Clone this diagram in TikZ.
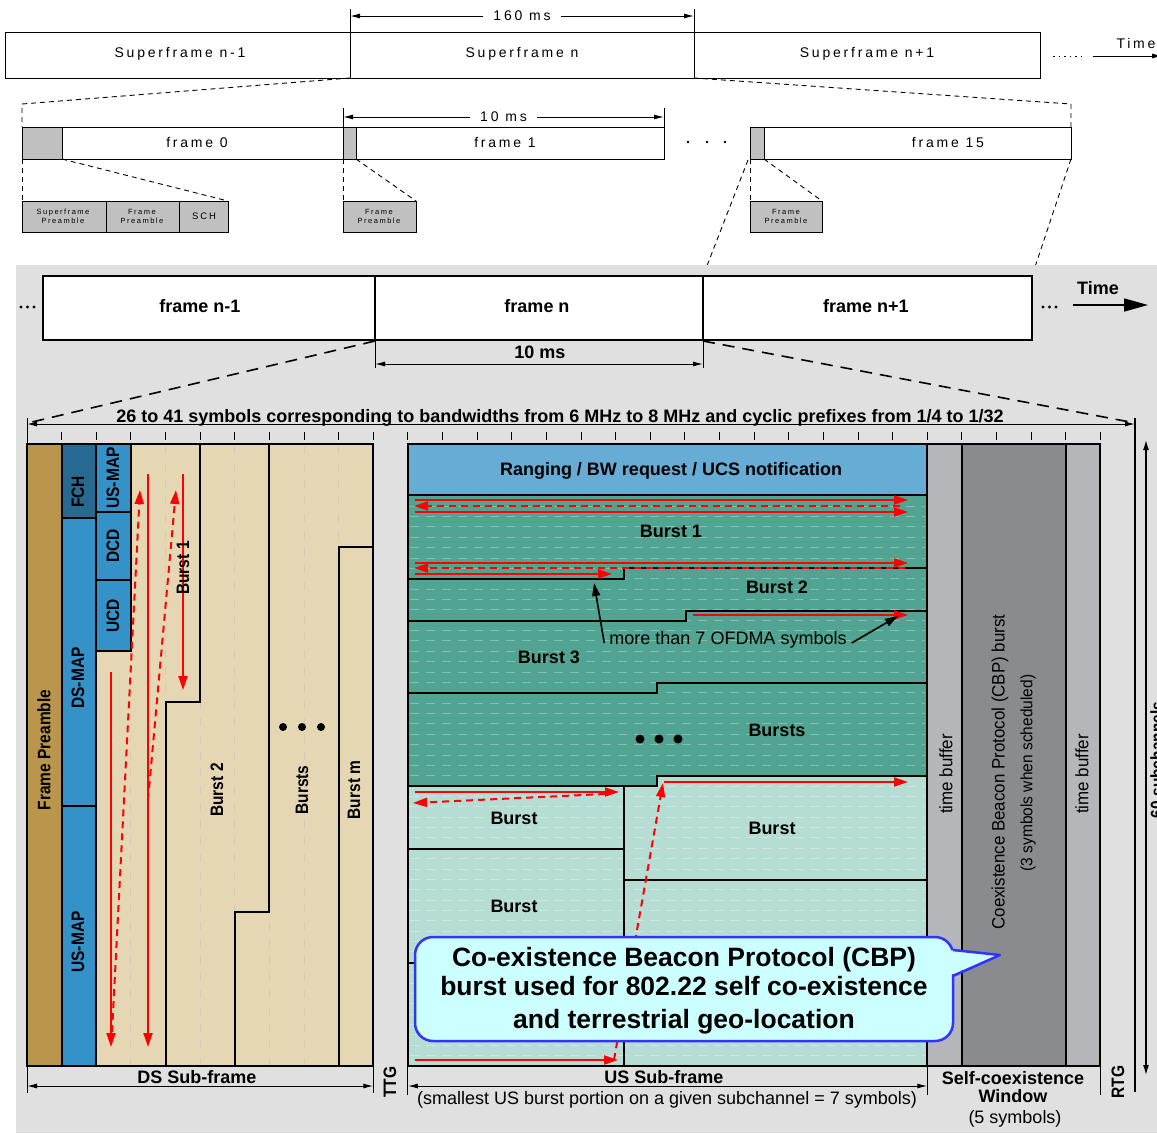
\documentclass[tikz,border=0pt]{standalone}
\usepackage{fontspec}
\setmainfont{Liberation Sans}
\newfontfamily\spc[LetterSpace=20]{Liberation Sans}
\newfontfamily\nar[FakeStretch=0.86]{Liberation Sans}
\newfontfamily\narr[FakeStretch=0.94]{Liberation Sans}
\usetikzlibrary{arrows.meta}
\definecolor{bg}{RGB}{224,224,224}
\definecolor{pre}{RGB}{185,150,75}
\definecolor{fch}{RGB}{38,106,145}
\definecolor{mapc}{RGB}{52,146,201}
\definecolor{tanc}{RGB}{230,215,180}
\definecolor{tangrid}{RGB}{212,202,182}
\definecolor{rng}{RGB}{102,172,212}
\definecolor{tealA}{RGB}{80,164,145}
\definecolor{tealB}{RGB}{182,221,212}
\definecolor{tbuf}{RGB}{180,182,186}
\definecolor{cbpc}{RGB}{137,139,143}
\definecolor{cfill}{RGB}{204,255,255}
\definecolor{cblue}{RGB}{51,51,255}
\definecolor{topgray}{RGB}{192,192,192}
\begin{document}
\begin{tikzpicture}[x=1pt,y=-1pt,
  lbl/.style={font=\fontsize{18}{22}\selectfont\bfseries, inner sep=0pt},
  reg/.style={font=\fontsize{18}{22}\selectfont, inner sep=0pt},
  rlbl/.style={rotate=90, inner sep=0pt, font=\nar\fontsize{18}{22}\selectfont\bfseries},
  rreg/.style={rotate=90, inner sep=0pt, font=\narr\fontsize{18}{22}\selectfont},
  toptxt/.style={inner sep=0pt, font=\spc\fontsize{14}{16}\selectfont},
  smtxt/.style={inner sep=0pt, align=center, font=\spc\fontsize{7.5}{9}\selectfont},
  tdash/.style={line width=0.9pt, dash pattern=on 5pt off 4pt},
  mdash/.style={line width=1.6pt, dash pattern=on 12pt off 8pt},
  bnd/.style={line width=2pt, line cap=rect},
  rarr/.style={draw=red, line width=2pt, -{Triangle[length=14pt,width=9pt]}},
  rdash/.style={rarr, dash pattern=on 7pt off 5pt},
  barr/.style={line width=1.6pt, -{Triangle[length=13pt,width=8pt]}},
  dimar/.style={line width=1pt, {Latex[length=10pt,width=5pt]}-{Latex[length=10pt,width=5pt]}},
  vgrid/.style={draw=tangrid, line width=1pt, dash pattern=on 8pt off 9pt},
  hgrid/.style={draw=white, opacity=0.3, line width=1pt, dash pattern=on 9pt off 7pt},
  callout/.style={font=\fontsize{26.5}{30}\selectfont\bfseries, inner sep=0pt, anchor=base}
]
\useasboundingbox (0,0) rectangle (1157,1133);

% ================= TOP SECTION =================
\draw[line width=1pt] (5,32) rectangle (350,78);
\draw[line width=1pt] (350,32) rectangle (694,78);
\draw[line width=1pt] (694,32) rectangle (1040,78);
\node[toptxt] (sf1) at (180,54) {Superframe n-1};
\node[toptxt] (sf2) at (522,54) {Superframe n};
\node[toptxt] (sf3) at (867,54) {Superframe n+1};
\draw[line width=1pt] (350,9) -- (350,32);
\draw[line width=1pt] (694,9) -- (694,32);
\draw[dimar] (350,16) -- (694,16) node[midway, fill=white, toptxt, inner xsep=10pt, inner ysep=1pt] (ms160) {160 ms};
\draw[line width=1pt, dash pattern=on 1.5pt off 4pt] (1053,56) -- (1082,56);
\node[toptxt] (time1) at (1136,43) {Time};
\draw[line width=1pt, -{Latex[length=10pt,width=5pt]}] (1093,56) -- (1162,56);

\draw[tdash] (350,78) -- (22,104) -- (22,127);
\draw[tdash] (694,78) -- (1071,104) -- (1071,127);

\draw[line width=1pt] (343,108) -- (343,127);
\draw[line width=1pt] (664,108) -- (664,127);
\draw[dimar] (343,117) -- (664,117) node[midway, fill=white, toptxt, inner xsep=10pt, inner ysep=1pt] (ms10a) {10 ms};

\fill[topgray] (22,127) rectangle (62,159);
\fill[topgray] (343,127) rectangle (356,159);
\fill[topgray] (750,127) rectangle (764,159);
\draw[line width=1pt] (22,127) rectangle (343,159);
\draw[line width=1pt] (62,127) -- (62,159);
\draw[line width=1pt] (343,127) rectangle (664,159);
\draw[line width=1pt] (356,127) -- (356,159);
\draw[line width=1pt] (750,127) rectangle (1071,159);
\draw[line width=1pt] (764,127) -- (764,159);
\node[toptxt] (f0) at (197,142) {frame 0};
\node[toptxt] (f1) at (505,142) {frame 1};
\node[toptxt] (f15) at (948,142) {frame 15};
\foreach \x in {688,707,725} \fill (\x,142) circle (1.3pt);

\draw[tdash] (22,159) -- (22,201);
\draw[tdash] (62,159) -- (228,201);
\draw[tdash] (343,159) -- (343,201);
\draw[tdash] (356,159) -- (416,201);
\draw[tdash] (750,159) -- (750,201);
\draw[tdash] (764,159) -- (822,201);
\draw[tdash] (748,160) -- (703,276);
\draw[tdash] (1071,159) -- (1032,276);

\fill[topgray] (22,201) rectangle (228,232);
\fill[topgray] (343,201) rectangle (416,232);
\fill[topgray] (750,201) rectangle (822,232);
\draw[line width=1pt] (22,201) rectangle (106,232);
\draw[line width=1pt] (106,201) rectangle (179,232);
\draw[line width=1pt] (179,201) rectangle (228,232);
\draw[line width=1pt] (343,201) rectangle (416,232);
\draw[line width=1pt] (750,201) rectangle (822,232);
\node[smtxt] (sp1) at (63,216) {Superframe\\Preamble};
\node[smtxt] (fp1) at (142,216) {Frame\\Preamble};
\node[smtxt, font=\spc\fontsize{9.5}{10}\selectfont] (sch) at (204,216) {SCH};
\node[smtxt] (fp2) at (379,216) {Frame\\Preamble};
\node[smtxt] (fp3) at (786,216) {Frame\\Preamble};

% ================= MIDDLE SECTION =================
\fill[bg] (16,265) rectangle (1157,1133);
\draw[line width=2pt, fill=white] (43,276) rectangle (1032,340);
\draw[line width=2pt] (375,276) -- (375,340);
\draw[line width=2pt] (703,276) -- (703,340);
\node[lbl] (fn1) at (200,306) {frame n-1};
\node[lbl] (fn) at (537,306) {frame n};
\node[lbl] (fn2) at (866,306) {frame n+1};
\foreach \x in {21,27.5,34} \fill (\x,307) circle (1.6pt);
\foreach \x in {1043,1049.5,1056} \fill (\x,307) circle (1.6pt);
\node[lbl] (time2) at (1098,288) {Time};
\draw[line width=1.5pt, -{Triangle[length=24pt,width=13pt]}] (1073,305) -- (1148,305);

\draw[line width=1pt] (375,340) -- (375,368);
\draw[line width=1pt] (703,340) -- (703,368);
\draw[dimar] (375,364) -- (703,364);
\node[lbl] (ms10b) at (540,352) {10 ms};

\draw[mdash] (375,341) -- (32,422);
\draw[mdash] (703,341) -- (1130,422);
\draw[line width=1pt] (27,418) -- (27,444);
\draw[line width=1.5pt] (1135,418) -- (1135,1092);
\draw[dimar] (27,424) -- (1135,424);
\node[lbl, anchor=base] (sym) at (560,422) {26 to 41 symbols corresponding to bandwidths from 6 MHz to 8 MHz and cyclic prefixes from 1/4 to 1/32};
\foreach \k in {1,...,31} \draw[line width=1pt] ({27+34.625*\k},432) -- ({27+34.625*\k},440);

% ================= DS SUB-FRAME =================
\fill[tanc] (96.25,444) rectangle (373.25,1066);
\foreach \x in {130.875,165.5,200.125,234.75,269.375,304,338.625} \draw[vgrid] (\x,446) -- (\x,1066);
\fill[pre] (27,444) rectangle (61.625,1066);
\fill[fch] (61.625,444) rectangle (96.25,518);
\fill[mapc] (61.625,518) rectangle (96.25,1066);
\fill[mapc] (96.25,444) rectangle (130.875,651);
\draw[bnd] (61.625,444) -- (61.625,1066);
\draw[bnd] (96.25,444) -- (96.25,1066);
\draw[bnd] (61.625,518) -- (96.25,518);
\draw[bnd] (61.625,806) -- (96.25,806);
\draw[bnd] (96.25,512) -- (130.875,512);
\draw[bnd] (96.25,580) -- (130.875,580);
\draw[bnd] (96.25,651) -- (130.875,651) -- (130.875,444);
\draw[bnd] (200.125,444) -- (200.125,702) -- (165.5,702) -- (165.5,1066);
\draw[bnd] (269.375,444) -- (269.375,912) -- (234.75,912) -- (234.75,1066);
\draw[bnd] (338.625,1066) -- (338.625,547) -- (373.25,547);
\draw[bnd] (27,444) rectangle (373.25,1066);

\draw[rarr] (111,672) -- (111,1047);
\draw[rdash] (112,1032) -- (140,490);
\draw[rarr] (148,474) -- (148,1047);
\draw[rdash] (148,800) -- (176,490);
\draw[rarr] (183,474) -- (183,690);

\node[rlbl] (fpre) at (44,750) {Frame Preamble};
\node[rlbl] (fchl) at (78,492) {FCH};
\node[rlbl] (dsmap) at (78,678) {DS-MAP};
\node[rlbl] (usmap1) at (78,942) {US-MAP};
\node[rlbl] (usmap2) at (113,478) {US-MAP};
\node[rlbl] (dcd) at (113,546) {DCD};
\node[rlbl] (ucd) at (113,616) {UCD};
\node[rlbl] (db1) at (183,568) {Burst 1};
\node[rlbl] (db2) at (217,790) {Burst 2};
\node[rlbl] (dbs) at (302,790) {Bursts};
\node[rlbl] (dbm) at (354,790) {Burst m};
\foreach \x in {283,302,321} \fill (\x,727) circle (4pt);

% ================= US SUB-FRAME =================
\fill[tealB] (407.875,444) rectangle (927.25,1066);
\fill[tealA] (407.875,495) -- (927.25,495) -- (927.25,776) -- (657,776) -- (657,786) -- (407.875,786) -- cycle;
\fill[rng] (407.875,444) rectangle (927.25,495);
\foreach \j in {6,...,59} \draw[hgrid] (410,{444+10.367*\j}) -- (925,{444+10.367*\j});
\draw[bnd] (407.875,495) -- (927.25,495);
\draw[bnd] (407.875,579) -- (624,579) -- (624,568) -- (927.25,568);
\draw[bnd] (407.875,621) -- (686,621) -- (686,611) -- (927.25,611);
\draw[bnd] (407.875,693) -- (657,693) -- (657,683) -- (927.25,683);
\draw[bnd] (407.875,786) -- (657,786) -- (657,776) -- (927.25,776);
\draw[bnd] (624,786) -- (624,1066);
\draw[bnd] (407.875,849) -- (624,849);
\draw[bnd] (407.875,963) -- (624,963);
\draw[bnd] (624,880) -- (927.25,880);
\draw[bnd] (407.875,444) rectangle (927.25,1066);

\draw[rarr] (415,500) -- (908,500);
\draw[rdash] (900,506) -- (414,506);
\draw[rarr] (415,512) -- (908,512);
\draw[rarr] (415,563) -- (908,563);
\draw[rdash] (905,568) -- (414,568);
\draw[rarr] (415,574) -- (612,574);
\draw[rarr] (693,615) -- (908,615);
\draw[rarr] (664,782) -- (908,782);
\draw[rarr] (415,792) -- (619,792);
\draw[rdash] (605,794) -- (413,803);
\draw[rdash] (614,1060) -- (663,783);
\draw[rarr] (415,1060) -- (618,1060);

\node[lbl] (rng) at (671,471) {Ranging / BW request / UCS notification};
\node[lbl] (ub1) at (671,531) {Burst 1};
\node[lbl] (ub2) at (777,587) {Burst 2};
\node[lbl] (ub3) at (549,657) {Burst 3};
\node[lbl] (ubs) at (777,730) {Bursts};
\foreach \x in {640,659,678} \fill (\x,739) circle (4.5pt);
\node[lbl] (ub4) at (514,818) {Burst};
\node[lbl] (ub5) at (772,828) {Burst};
\node[lbl] (ub6) at (514,906) {Burst};
\node[reg] (mt) at (728,640) {more than 7 OFDMA symbols};
\coordinate (t1) at (594,583);
\coordinate (t2) at (898,616);
\draw[barr] ([xshift=-5pt,yshift=-3pt]mt.west) -- (t1);
\draw[barr] ([xshift=5pt,yshift=-3pt]mt.east) -- (t2);

% ================= SELF-COEXISTENCE WINDOW =================
\fill[tbuf] (927.25,444) rectangle (961.875,1066);
\fill[cbpc] (961.875,444) rectangle (1065.75,1066);
\fill[tbuf] (1065.75,444) rectangle (1100.375,1066);
\draw[bnd] (927.25,444) rectangle (1100.375,1066);
\draw[bnd] (961.875,444) -- (961.875,1066);
\draw[bnd] (1065.75,444) -- (1065.75,1066);
\node[rreg] (tb1) at (946,774) {time buffer};
\node[rreg] (cbp1) at (1000,772) {Coexistence Beacon Protocol (CBP) burst};
\node[rreg, font=\narr\fontsize{16.5}{18}\selectfont] (cbp2) at (1028,773) {(3 symbols when scheduled)};
\node[rreg] (tb2) at (1082,774) {time buffer};

% ================= CALLOUT =================
\node[draw=cblue, fill=cfill, line width=2.5pt, rounded corners=18pt, minimum width=538pt, minimum height=104pt, inner sep=0pt] (co) at (684,989) {};
\fill[cfill] (948,950) -- (1000,955) -- (948,976) -- cycle;
\draw[cblue, line width=2.5pt, line join=round] (953,950) -- (1000,955) -- (953,976);
\node[callout] (co1) at (684,966) {Co-existence Beacon Protocol (CBP)};
\node[callout] (co2) at (684,995) {burst used for 802.22 self co-existence};
\node[callout] (co3) at (684,1028) {and terrestrial geo-location};

% ================= BOTTOM LABELS =================
\draw[line width=1pt] (27,1066) -- (27,1093);
\draw[line width=1pt] (373.25,1066) -- (373.25,1093);
\draw[line width=1pt] (407.875,1066) -- (407.875,1095);
\draw[line width=1pt] (927.25,1066) -- (927.25,1095);
\draw[line width=1pt] (1100.375,1066) -- (1100.375,1095);
\draw[dimar] (27,1086) -- (373.25,1086);
\draw[dimar] (407.875,1086) -- (927.25,1086);
\node[lbl, anchor=base] (dssf) at (197,1083) {DS Sub-frame};
\node[lbl, anchor=base] (ussf) at (664,1083) {US Sub-frame};
\node[reg, anchor=base] (small) at (667,1104) {(smallest US burst portion on a given subchannel = 7 symbols)};
\node[lbl, anchor=base] (scw1) at (1013,1084) {Self-coexistence};
\node[lbl, anchor=base] (scw2) at (1013,1102) {Window};
\node[reg, anchor=base] (scw3) at (1015,1123) {(5 symbols)};
\node[rlbl] (ttg) at (390,1082) {TTG};
\node[rlbl] (rtg) at (1118,1082) {RTG};
\draw[line width=1.3pt, {Latex[length=10pt,width=6pt]}-{Latex[length=10pt,width=6pt]}] (1146,440) -- (1146,1075);
\node[rlbl, anchor=north] (subch) at (1150,760) {60 subchannels};
\end{tikzpicture}
\end{document}
